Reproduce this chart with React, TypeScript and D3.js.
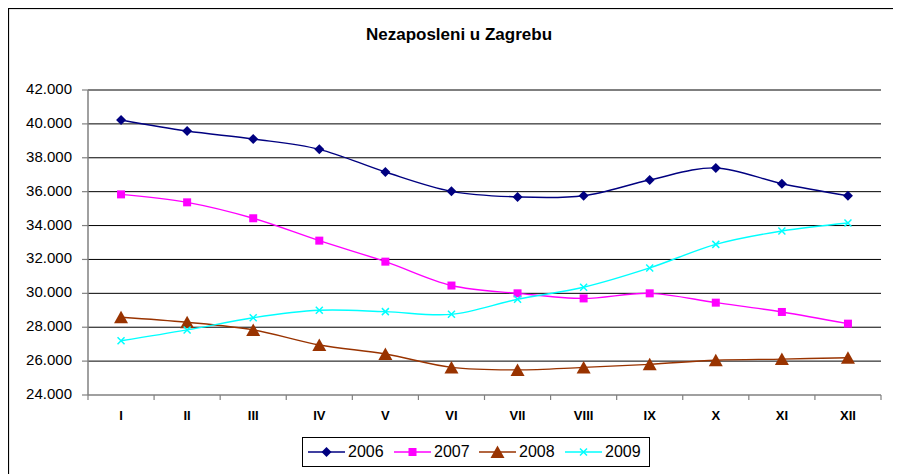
import React from "react";
import * as d3 from "d3";

const months = ["I", "II", "III", "IV", "V", "VI", "VII", "VIII", "IX", "X", "XI", "XII"];
const years = ["2006", "2007", "2008", "2009"];
const s2006 = [40230, 39580, 39110, 38500, 37160, 36020, 35690, 35760, 36690, 37400, 36470, 35760];
const s2007 = [35840, 35370, 34430, 33110, 31870, 30460, 30000, 29700, 30000, 29450, 28900, 28210];
const s2008 = [28590, 28290, 27840, 26950, 26420, 25630, 25480, 25630, 25810, 26050, 26120, 26200];
const s2009 = [27200, 27840, 28560, 29000, 28920, 28760, 29650, 30360, 31500, 32890, 33680, 34150];
const yTicks = [24000, 26000, 28000, 30000, 32000, 34000, 36000, 38000, 40000, 42000];
const colors = ["#000080", "#FF00FF", "#993300", "#00FFFF"];
const markers = ["diamond", "square", "triangle", "x"];

const W = 893;
const H = 466;
const L = 80, R = 873, T = 82, B = 387;

const fmt = (v: number) => d3.format(",")(v).replace(/,/g, ".");

function Marker({ type, x, y, color }: { type: string; x: number; y: number; color: string }) {
  if (type === "diamond") {
    const s = 5;
    return <path d={`M${x},${y - s}L${x + s},${y}L${x},${y + s}L${x - s},${y}Z`} fill={color} />;
  }
  if (type === "square") {
    const s = 4;
    return <rect x={x - s} y={y - s} width={2 * s} height={2 * s} fill={color} />;
  }
  if (type === "triangle") {
    return <path d={`M${x},${y - 6.5}L${x + 7},${y + 6}L${x - 7},${y + 6}Z`} fill={color} />;
  }
  const s = 3.5;
  return (
    <path d={`M${x - s},${y - s}L${x + s},${y + s}M${x + s},${y - s}L${x - s},${y + s}`} stroke={color} strokeWidth={1.5} />
  );
}

export default function App() {
  const series = [s2006, s2007, s2008, s2009];
  const x = d3.scaleBand<string>().domain(months).range([L, R]);
  const y = d3.scaleLinear().domain([24000, 42000]).range([B, T]);
  const cx = (m: string) => (x(m) as number) + x.bandwidth() / 2;
  const line = d3
    .line<number>()
    .x((_, i) => cx(months[i]))
    .y((d) => y(d))
    .curve(d3.curveCardinal.tension(0));
  const font = "'Liberation Sans', Arial, sans-serif";

  const legendItems = [
    { lx: 300, tx: 340 },
    { lx: 386, tx: 426 },
    { lx: 471, tx: 511 },
    { lx: 557, tx: 597 },
  ];

  return (
    <svg width={W} height={H} style={{ display: "block", fontFamily: font }}>
      <rect x={0.5} y={0.5} width={W + 20} height={H + 20} fill="#fff" stroke="#000" strokeWidth={1.2} />
      <text x={451} y={28} textAnchor="middle" fontSize={17} fontWeight="bold" dominantBaseline="middle">
        Nezaposleni u Zagrebu
      </text>
      {yTicks.map((t) => (
        <g key={t}>
          {t !== 24000 && <line x1={L} x2={R} y1={y(t)} y2={y(t)} stroke="#000" strokeWidth={1} />}
          <line x1={L - 6} x2={L} y1={y(t)} y2={y(t)} stroke="#808080" strokeWidth={1.2} />
          <text x={64} y={y(t)} textAnchor="end" dominantBaseline="middle" fontSize={15}>
            {fmt(t)}
          </text>
        </g>
      ))}
      <line x1={L} x2={L} y1={T} y2={B} stroke="#808080" strokeWidth={1.5} />
      <line x1={L} x2={R} y1={B} y2={B} stroke="#808080" strokeWidth={1.5} />
      {months.map((m, i) => (
        <g key={m}>
          <line x1={(x(m) as number) + x.bandwidth()} x2={(x(m) as number) + x.bandwidth()} y1={B} y2={B + 5} stroke="#808080" strokeWidth={1.2} />
          {i === 0 && <line x1={L} x2={L} y1={B} y2={B + 5} stroke="#808080" strokeWidth={1.2} />}
          <text x={cx(m)} y={409} textAnchor="middle" dominantBaseline="middle" fontSize={13} fontWeight="bold">
            {m}
          </text>
        </g>
      ))}
      {series.map((s, k) => (
        <g key={years[k]}>
          <path d={line(s) || ""} fill="none" stroke={colors[k]} strokeWidth={1.4} />
          {s.map((v, i) => (
            <Marker key={i} type={markers[k]} x={cx(months[i])} y={y(v)} color={colors[k]} />
          ))}
        </g>
      ))}
      <rect x={294.5} y={429.5} width={347} height={29} fill="#fff" stroke="#000" strokeWidth={1} />
      {legendItems.map((it, k) => (
        <g key={years[k]}>
          <line x1={it.lx} x2={it.lx + 37} y1={444} y2={444} stroke={colors[k]} strokeWidth={1.4} />
          <Marker type={markers[k]} x={it.lx + 18.5} y={444} color={colors[k]} />
          <text x={it.tx} y={445} dominantBaseline="middle" fontSize={16}>
            {years[k]}
          </text>
        </g>
      ))}
    </svg>
  );
}
